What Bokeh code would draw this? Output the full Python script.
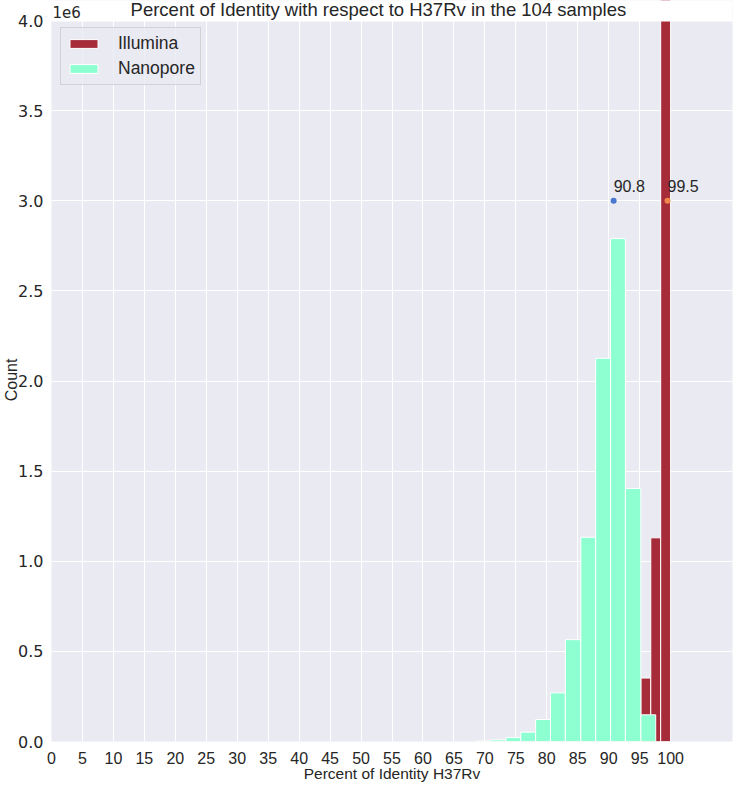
from bokeh.plotting import figure
from bokeh.models import (Range1d, FixedTicker, CustomJSTickFormatter, Legend, LegendItem,
                          ColumnDataSource)
from bokeh.core.properties import value
from bokeh.embed import file_html
from bokeh.resources import INLINE

# ---- data ----
illumina_edges = [95.2, 96.8, 98.4, 100.0]
illumina_counts = [352000, 1130000, 4600000]
nanopore_edges = [68.5, 70.9, 73.4, 75.8, 78.2, 80.6, 83.0, 85.5, 87.9, 90.3, 92.7, 95.2, 97.6]
nanopore_counts = [3000, 9000, 22000, 52000, 122000, 270000, 565000, 1133000, 2126000, 2790000, 1404000, 148000]
mean_values = [90.8, 99.5]
mean_labels = ["90.8", "99.5"]
mean_y = [3000000, 3000000]
mean_colors = ["#4878d0", "#ee854a"]
x_ticks = [0, 5, 10, 15, 20, 25, 30, 35, 40, 45, 50, 55, 60, 65, 70, 75, 80, 85, 90, 95, 100]
y_ticks = [0, 500000, 1000000, 1500000, 2000000, 2500000, 3000000, 3500000, 4000000]
y_max = 4000000
title_text = "Percent of Identity with respect to H37Rv in the 104 samples"
offset_text = "1e6"

TXT = "#262626"
FONT = "Liberation Sans"

# frame: 0..741 px tall; the axes area proper is y in [0, 4e6] (721 px); the 20 px above hold the title
PX_PER_UNIT_Y = 721 / y_max
top_pad = 20 / PX_PER_UNIT_Y

p = figure(width=733, height=785, output_backend="svg", toolbar_location=None,
           x_range=Range1d(0, 110), y_range=Range1d(0, y_max + top_pad),
           min_border_left=51, min_border_right=1, min_border_top=0, min_border_bottom=44)
p.background_fill_color = "#eaeaf2"
p.border_fill_color = "white"
p.outline_line_color = None

bottom_axis = p.below[0]
left_axis = p.left[0]

for ax in (bottom_axis, left_axis):
    ax.axis_line_color = None
    ax.major_tick_line_color = None
    ax.minor_tick_line_color = None
    ax.major_tick_out = 0
    ax.major_tick_in = 0
    ax.minor_tick_out = 0
    ax.minor_tick_in = 0
    ax.major_label_text_color = TXT
    ax.major_label_text_font_size = "16px"

bottom_axis.ticker = FixedTicker(ticks=x_ticks)
bottom_axis.major_label_text_font = FONT
bottom_axis.major_label_standoff = 10
bottom_axis.axis_label = "Percent of Identity H37Rv"
bottom_axis.axis_label_text_font = FONT
bottom_axis.axis_label_text_font_size = "15.5px"
bottom_axis.axis_label_text_font_style = "normal"
bottom_axis.axis_label_text_color = TXT
bottom_axis.axis_label_standoff = -2

left_axis.ticker = FixedTicker(ticks=y_ticks)
left_axis.major_label_text_font = "DejaVu Sans"
left_axis.major_label_standoff = 8
left_axis.formatter = CustomJSTickFormatter(code="return (tick/1e6).toFixed(1);")
left_axis.axis_label = "Count\u00a0\u00a0\u00a0\u00a0"
left_axis.axis_label_text_font = FONT
left_axis.axis_label_text_font_size = "16px"
left_axis.axis_label_text_font_style = "normal"
left_axis.axis_label_text_color = TXT
left_axis.axis_label_standoff = -5

p.xgrid.grid_line_color = "white"
p.ygrid.grid_line_color = "white"
p.xgrid.grid_line_width = 1
p.ygrid.grid_line_width = 1

r_ill = p.quad(left=illumina_edges[:-1], right=illumina_edges[1:], bottom=0, top=illumina_counts,
               fill_color="#a62c3a", line_color="white", line_width=1)
r_nan = p.quad(left=nanopore_edges[:-1], right=nanopore_edges[1:], bottom=0, top=nanopore_counts,
               fill_color="#8effd1", line_color="white", line_width=1)

# white strip above the axes area (figure margin that carries the title)
p.quad(left=[-20], right=[130], bottom=[y_max], top=[y_max + 3 * top_pad], fill_color="white",
       line_color="white", line_width=2)

src = ColumnDataSource(dict(x=mean_values, y=mean_y, t=mean_labels, c=mean_colors))
p.scatter(x="x", y="y", source=src, size=6, fill_color="c", line_color=None)
p.text(x="x", y="y", text="t", source=src, y_offset=-15, text_baseline="middle", text_align="left",
       text_font=value(FONT), text_font_size="16px", text_color=TXT)

# title and offset text, placed in the strip above the axes area
p.text(x=[52.8], y=[y_max], text=[title_text], y_offset=-11.4, text_baseline="middle", text_align="center",
       text_font=value(FONT), text_font_size="18.5px", text_color=TXT)
p.text(x=[0.16], y=[y_max], text=[offset_text], y_offset=-8.5, text_baseline="middle", text_align="left",
       text_font=value("DejaVu Sans"), text_font_size="15px", text_color=TXT)

legend = Legend(items=[LegendItem(label="Illumina", renderers=[r_ill]),
                       LegendItem(label="Nanopore", renderers=[r_nan])],
                location=(9, 656), padding=5, spacing=4,
                glyph_width=35, glyph_height=11, label_height=21, label_standoff=17,
                label_text_font=FONT, label_text_font_size="17.5px", label_text_color=TXT,
                background_fill_color="#eaeaf2", background_fill_alpha=0.8,
                border_line_color="#cccccc", border_line_alpha=0.8, border_line_width=1)
p.add_layout(legend)

open("out.html", "w").write(file_html(p, INLINE))
